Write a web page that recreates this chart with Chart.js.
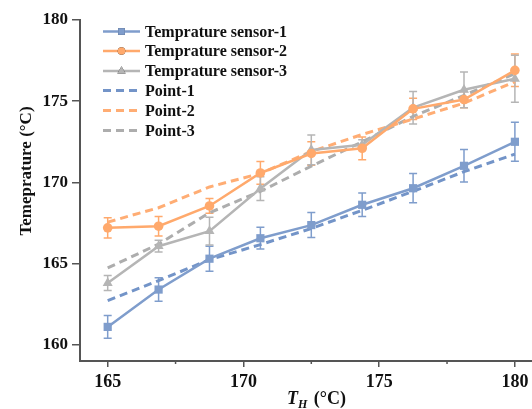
<!DOCTYPE html>
<html>
<head>
<meta charset="utf-8">
<script src="https://cdn.jsdelivr.net/npm/chart.js@4.4.1/dist/chart.umd.min.js"></script>
<style>
  body { margin: 0; background: #fff; }
  #wrap { width: 532px; height: 409px; }
</style>
</head>
<body>
<div id="wrap"><canvas id="tempChart" width="532" height="409"></canvas></div>
<script>
// heater temperature T_H (°C)
const tempsH = [165, 166.875, 168.75, 170.625, 172.5, 174.375, 176.25, 178.125, 180];

const sensor1 = [161.1, 163.4, 165.3, 166.56, 167.37, 168.62, 169.64, 171.02, 172.5];
const sensor2 = [167.2, 167.3, 168.55, 170.58, 171.78, 172.1, 174.53, 175.1, 176.9];
const sensor3 = [163.8, 166.07, 167.0, 169.62, 172.0, 172.32, 174.6, 175.7, 176.38];

const err1 = [0.7, 0.72, 0.77, 0.67, 0.77, 0.72, 0.9, 1.0, 1.2];
const err2 = [0.62, 0.6, 0.45, 0.7, 0.72, 0.7, 0.65, 0.5, 1.0];
const err3 = [0.46, 0.36, 0.85, 0.73, 0.92, 0.3, 1.0, 1.1, 1.45];

const point1 = [162.72, 163.95, 165.24, 166.17, 167.16, 168.28, 169.45, 170.66, 171.74];
const point2 = [167.55, 168.44, 169.72, 170.55, 171.9, 172.95, 173.9, 174.88, 176.2];
const point3 = [164.73, 166.2, 168.13, 169.45, 171.0, 172.5, 174.06, 175.36, 176.7];

const yTicks = [160, 165, 170, 175, 180];
const xTicks = [165, 167.5, 170, 172.5, 175, 177.5, 180];

const BLUE = "#7f9dcc";
const ORANGE = "#ffa96c";
const GRAY = "#b5b5b5";
const AXIS = "#555";
const FONT = "'Liberation Serif', 'Times New Roman', serif";

const pts = ys => ys.map((y, i) => ({ x: tempsH[i], y }));

function solid(label, ys, color, style, radius, errs) {
  return {
    label, data: pts(ys), errs,
    borderColor: color, backgroundColor: color,
    borderWidth: 2.5, pointStyle: style, pointRadius: radius,
    pointBorderWidth: 0, tension: 0
  };
}
function dashed(label, ys, color) {
  return {
    label, data: pts(ys),
    borderColor: color, backgroundColor: color,
    borderWidth: 3, borderDash: [8, 5], pointRadius: 0, tension: 0
  };
}

const datasets = [
  solid("Temprature sensor-1", sensor1, BLUE, "rect", 5.8, err1),
  solid("Temprature sensor-2", sensor2, ORANGE, "circle", 4.8, err2),
  solid("Temprature sensor-3", sensor3, GRAY, "triangle", 5.8, err3),
  dashed("Point-1", point1, "#7394c8"),
  dashed("Point-2", point2, "#ffad74"),
  dashed("Point-3", point3, "#adadad")
];
datasets[1].order = 0;
datasets[2].order = 1;
datasets[0].order = 2;
datasets[3].order = 3;
datasets[4].order = 4;
datasets[5].order = 5;

// error bars, drawn under the lines
const errorBars = {
  id: "errorBars",
  beforeDatasetsDraw(chart) {
    const { ctx, scales: { x, y } } = chart;
    ctx.save();
    ctx.lineWidth = 1.5;
    chart.data.datasets.forEach(ds => {
      if (!ds.errs) return;
      ctx.strokeStyle = ds.borderColor;
      ds.data.forEach((p, i) => {
        const px = x.getPixelForValue(p.x);
        const top = y.getPixelForValue(p.y + ds.errs[i]);
        const bot = y.getPixelForValue(p.y - ds.errs[i]);
        ctx.beginPath();
        ctx.moveTo(px, top); ctx.lineTo(px, bot);
        ctx.moveTo(px - 4, top); ctx.lineTo(px + 4, top);
        ctx.moveTo(px - 4, bot); ctx.lineTo(px + 4, bot);
        ctx.stroke();
      });
    });
    ctx.restore();
  }
};

// minor ticks, axis titles and legend
const extras = {
  id: "extras",
  afterDraw(chart) {
    const { ctx, chartArea, scales: { x } } = chart;
    ctx.save();
    ctx.strokeStyle = AXIS;
    ctx.lineWidth = 1.5;
    xTicks.forEach(v => {
      if (v % 5 === 0) return;
      const px = x.getPixelForValue(v);
      ctx.beginPath();
      ctx.moveTo(px, chartArea.bottom); ctx.lineTo(px, chartArea.bottom + 3);
      ctx.stroke();
    });

    ctx.fillStyle = "#111";
    // y title
    ctx.save();
    ctx.translate(27, 171);
    ctx.rotate(-Math.PI / 2);
    ctx.font = "bold 17px " + FONT;
    ctx.textAlign = "center";
    ctx.textBaseline = "middle";
    ctx.fillText("Temeprature (°C)", 0, 0);
    ctx.restore();

    // x title: T_H (°C)
    ctx.textAlign = "left";
    ctx.textBaseline = "alphabetic";
    let tx = 287;
    ctx.font = "italic bold 18px " + FONT;
    ctx.fillText("T", tx, 404);
    tx += ctx.measureText("T").width;
    ctx.font = "italic bold 12px " + FONT;
    ctx.fillText("H", tx, 408);
    tx += ctx.measureText("H").width + 2;
    ctx.font = "bold 18px " + FONT;
    ctx.fillText(" (°C)", tx, 404);

    // legend
    const rows = [31.5, 51, 71, 90.5, 110.5, 130.5];
    chart.data.datasets.forEach((ds, i) => {
      const yy = rows[i];
      ctx.strokeStyle = ds.borderColor;
      ctx.lineWidth = ds.borderWidth;
      ctx.setLineDash(ds.borderDash || []);
      ctx.beginPath();
      ctx.moveTo(103, yy); ctx.lineTo(140, yy);
      ctx.stroke();
      ctx.setLineDash([]);
      if (ds.pointRadius > 0) {
        Chart.helpers.drawPoint(ctx, {
          pointStyle: ds.pointStyle, radius: ds.pointRadius - 1, rotation: 0,
          borderWidth: 0
        }, 121.5, yy);
        ctx.fillStyle = ds.backgroundColor;
        ctx.fill();
      }
      ctx.fillStyle = "#111";
      ctx.font = "bold 16px " + FONT;
      ctx.textBaseline = "middle";
      ctx.fillText(ds.label, 145, yy + 1);
    });
    ctx.restore();
  }
};

new Chart(document.getElementById("tempChart"), {
  type: "line",
  data: { datasets },
  options: {
    responsive: false,
    animation: false,
    layout: { autoPadding: false, padding: { top: 20, right: 0, left: 0, bottom: 0 } },
    plugins: { legend: { display: false }, tooltip: { enabled: false } },
    scales: {
      x: {
        type: "linear", min: 163.98, max: 180.63,
        afterBuildTicks: s => { s.ticks = xTicks.map(v => ({ value: v })); },
        afterFit: s => { s.height = 48; s.paddingLeft = 0; s.paddingRight = 0; },
        grid: {
          drawOnChartArea: false, tickLength: 6, lineWidth: 1.5,
          tickColor: c => (c.tick && c.tick.value % 5 === 0 ? AXIS : "transparent")
        },
        border: { display: true, color: AXIS, width: 2 },
        ticks: {
          color: "#111", padding: 5, maxRotation: 0, autoSkip: false,
          font: { family: FONT, size: 18, weight: "bold" },
          callback: v => (v % 5 === 0 ? v : "")
        }
      },
      y: {
        min: 159, max: 180,
        afterBuildTicks: s => { s.ticks = yTicks.map(v => ({ value: v })); },
        afterFit: s => { s.width = 80; },
        grid: { drawOnChartArea: false, tickLength: 8, tickColor: AXIS, lineWidth: 1.5 },
        border: { display: true, color: AXIS, width: 2 },
        ticks: {
          color: "#111", padding: 4,
          font: { family: FONT, size: 17, weight: "bold" }
        }
      }
    }
  },
  plugins: [errorBars, extras]
});
</script>
</body>
</html>
